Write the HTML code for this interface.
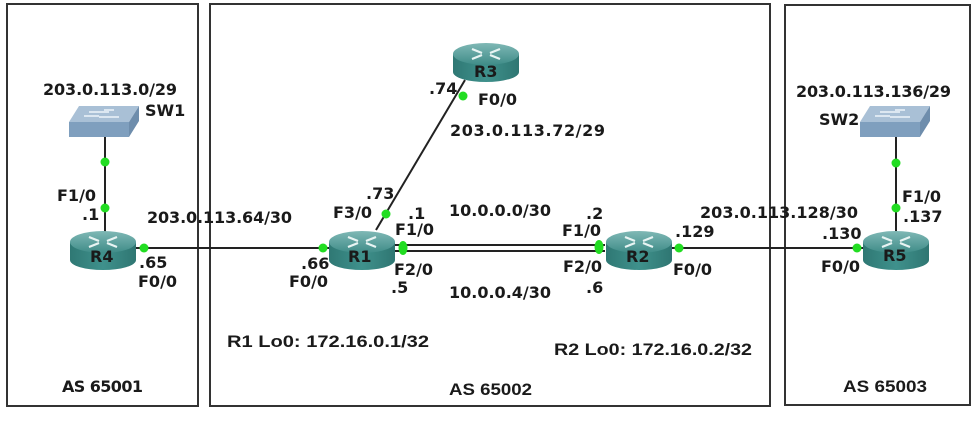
<!DOCTYPE html>
<html><head><meta charset="utf-8"><style>
body{margin:0;background:#fff}
svg text{font-family:"DejaVu Sans","Liberation Sans",sans-serif;font-weight:bold;font-size:16px;fill:#1a1a1a}
svg text.r{font-size:16px}
svg text.c{font-family:"Liberation Sans",sans-serif;font-weight:bold;font-size:17px}
</style></head><body>
<svg width="978" height="418" viewBox="0 0 978 418" xmlns="http://www.w3.org/2000/svg">
<defs>
<linearGradient id="rt" x1="0" y1="0" x2="0" y2="1"><stop offset="0" stop-color="#7fb8b5"/><stop offset="1" stop-color="#3f8c88"/></linearGradient>
<linearGradient id="rb" x1="0" y1="0" x2="1" y2="0"><stop offset="0" stop-color="#2f7874"/><stop offset="0.5" stop-color="#3f918c"/><stop offset="1" stop-color="#2f7672"/></linearGradient>
<g id="router">
<path d="M-33,-8 L-33,10 A33,10 0 0 0 33,10 L33,-8 Z" fill="url(#rb)"/>
<ellipse cx="0" cy="-8" rx="33" ry="11" fill="url(#rt)"/>
<path d="M-14,-13 L-4,-9 M-14,-3 L-4,-7 M14,-13 L4,-9 M14,-3 L4,-7" stroke="#e8f4f3" stroke-width="2.2" fill="none"/>
</g>
<g id="sw">
<polygon points="-25,-12 35,-12 25,4 -35,4" fill="#a9c0d6"/>
<polygon points="-35,4 25,4 25,19 -35,19" fill="#7f9fbe"/>
<polygon points="25,4 35,-12 35,3 25,19" fill="#6e8dac"/>
<path d="M-15,-6 L5,-6 M-5,-1 L15,-1 M0,-8 L10,-8 M-20,-2 L-5,-2" stroke="#eef4fa" stroke-width="1.5"/>
</g>
</defs>
<g fill="none" stroke="#333" stroke-width="2">
<rect x="7" y="4" width="191" height="402"/>
<rect x="210" y="4" width="560" height="402"/>
<rect x="785" y="5" width="185" height="400"/>
</g>
<g stroke="#222" stroke-width="2" fill="none">
<line x1="105" y1="135" x2="105" y2="232"/>
<line x1="896" y1="136" x2="896" y2="232"/>
<line x1="130" y1="248" x2="335" y2="248"/>
<line x1="395" y1="245" x2="605" y2="245"/>
<line x1="395" y1="251" x2="605" y2="251"/>
<line x1="670" y1="248" x2="870" y2="248"/>
<line x1="465" y1="80" x2="376" y2="230"/>
</g>
<use href="#sw" x="104" y="118"/>
<use href="#sw" x="895" y="118"/>
<use href="#router" x="486" y="62"/>
<use href="#router" x="103" y="250"/>
<use href="#router" x="362" y="250"/>
<use href="#router" x="639" y="250"/>
<use href="#router" x="896" y="250"/>
<g fill="#22dd22">
<circle cx="105" cy="162" r="4.5"/><circle cx="105" cy="208" r="4.5"/>
<circle cx="144" cy="248" r="4.5"/><circle cx="323" cy="248" r="4.5"/>
<circle cx="386" cy="214" r="4.5"/><circle cx="463" cy="96" r="4.5"/>
<ellipse cx="403" cy="248" rx="4.5" ry="7"/><ellipse cx="599" cy="247" rx="4.5" ry="7"/>
<circle cx="679" cy="248" r="4.5"/><circle cx="857" cy="248" r="4.5"/>
<circle cx="896" cy="163" r="4.5"/><circle cx="896" cy="208" r="4.5"/>
</g>
<text x="43" y="95" textLength="134">203.0.113.0/29</text>
<text x="145" y="116">SW1</text>
<text x="57" y="201">F1/0</text>
<text x="82" y="220">.1</text>
<text class="r" x="90" y="262">R4</text>
<text x="139" y="268">.65</text>
<text x="138" y="287">F0/0</text>
<text x="147" y="223" textLength="145">203.0.113.64/30</text>
<text x="301" y="269">.66</text>
<text x="289" y="287">F0/0</text>
<text class="r" x="348" y="262">R1</text>
<text x="366" y="199">.73</text>
<text x="333" y="218">F3/0</text>
<text x="408" y="219">.1</text>
<text x="395" y="235">F1/0</text>
<text x="394" y="275">F2/0</text>
<text x="391" y="293">.5</text>
<text class="r" x="474" y="77">R3</text>
<text x="429" y="94">.74</text>
<text x="478" y="105">F0/0</text>
<text x="450" y="136" textLength="155">203.0.113.72/29</text>
<text x="449" y="216">10.0.0.0/30</text>
<text x="449" y="298">10.0.0.4/30</text>
<text x="586" y="219">.2</text>
<text x="562" y="236">F1/0</text>
<text x="563" y="272">F2/0</text>
<text x="586" y="293">.6</text>
<text class="r" x="626" y="262">R2</text>
<text x="675" y="237">.129</text>
<text x="673" y="275">F0/0</text>
<text x="700" y="218" textLength="158">203.0.113.128/30</text>
<text x="822" y="239">.130</text>
<text x="821" y="272">F0/0</text>
<text class="r" x="883" y="261">R5</text>
<text x="902" y="202">F1/0</text>
<text x="903" y="222">.137</text>
<text x="796" y="97" textLength="155">203.0.113.136/29</text>
<text x="819" y="125">SW2</text>
<text class="c" x="227" y="347" textLength="202" lengthAdjust="spacingAndGlyphs">R1 Lo0: 172.16.0.1/32</text>
<text class="c" x="554" y="355" textLength="198" lengthAdjust="spacingAndGlyphs">R2 Lo0: 172.16.0.2/32</text>
<text class="c" x="449" y="395" textLength="83" lengthAdjust="spacingAndGlyphs">AS 65002</text>
<text class="c" x="843" y="392" textLength="84" lengthAdjust="spacingAndGlyphs">AS 65003</text>
<text x="62" y="392" textLength="81">AS 65001</text>
</svg>
</body></html>
